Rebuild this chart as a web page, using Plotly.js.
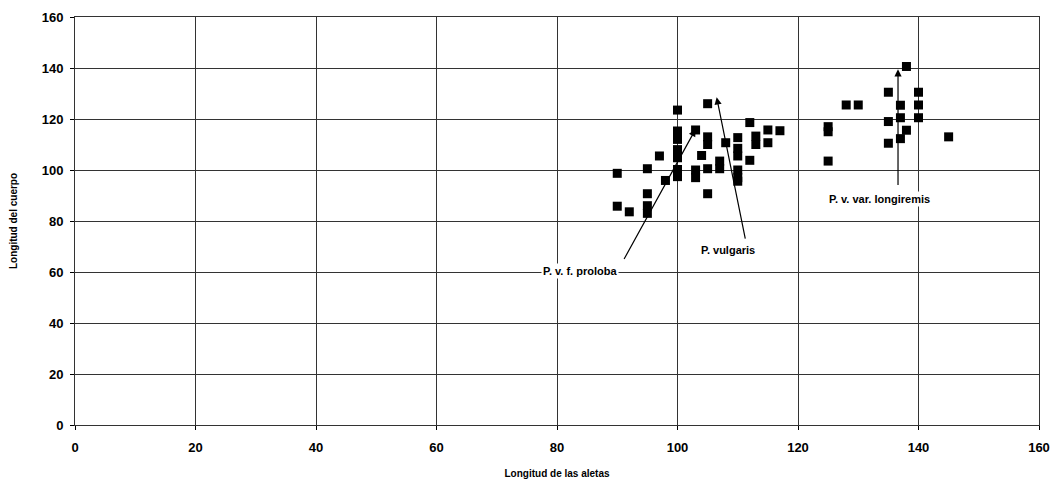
<!DOCTYPE html>
<html><head><meta charset="utf-8">
<script src="https://cdn.plot.ly/plotly-3.0.1.min.js"></script>
<style>html,body{margin:0;padding:0;background:#fff}#chart{width:1056px;height:480px}</style>
</head><body><div id="chart"></div>
<script>
var finLength = [100,105,112,115,117,100,100,100,100,100,100,103,105,105,108,110,110,110,113,113,115,97,104,107,107,112,90,95,103,103,105,110,110,110,98,95,105,90,92,95,95,125,125,125,128,130,135,135,135,138,137,137,138,137,140,140,140,145];
var bodyLength = [123.5,126,118.6,115.7,115.4,115.3,112,108,104.8,100.2,97.4,115.7,113,110,110.7,112.7,108.5,105.5,113.3,110,110.7,105.5,105.7,103.5,100.5,103.8,98.7,100.5,100,97,100.5,100,97,95.6,95.9,90.7,90.7,85.8,83.6,86,83,117,115,103.5,125.5,125.5,130.5,119,110.5,140.6,125.4,120.5,115.6,112.3,130.5,125.5,120.5,113];

var labelText = ["P. v. f. proloba","P. vulgaris","P. v. var. longiremis"];
var labelX = [83.8,108.3,133.5];
var labelY = [60.5,68.5,88.8];
var arrowTipX = [103,106.5,136.6];
var arrowTipY = [116,128.5,139.5];
var arrowStartX = [91,111.3,136.6];
var arrowStartY = [64.5,72.5,93.5];

var tickVals = [0,20,40,60,80,100,120,140,160];

var FONT = 'Liberation Sans, Arial, sans-serif';
var annotations = [];
for (var i=0;i<labelText.length;i++){
  annotations.push({x:labelX[i],y:labelY[i],xref:'x',yref:'y',text:'<b>'+labelText[i]+'</b>',showarrow:false,
    font:{family:FONT,size:11,color:'#000'},bgcolor:'#fff'});
  annotations.push({x:arrowTipX[i],y:arrowTipY[i],xref:'x',yref:'y',axref:'x',ayref:'y',
    ax:arrowStartX[i],ay:arrowStartY[i],text:'',showarrow:true,arrowhead:2,arrowsize:1.2,arrowwidth:1.2,arrowcolor:'#000',standoff:0});
}

var trace = {x:finLength,y:bodyLength,mode:'markers',type:'scatter',
  marker:{symbol:'square',size:9,color:'#000'},hoverinfo:'x+y'};

var layout = {
  width:1056,height:480,margin:{l:75,r:17,t:17,b:55},
  paper_bgcolor:'#fff',plot_bgcolor:'#fff',showlegend:false,
  xaxis:{range:[0,160],tickvals:tickVals,showgrid:true,gridcolor:'#333',gridwidth:1,
    zeroline:false,showline:true,linecolor:'#333',mirror:true,ticks:'outside',ticklen:4,tickcolor:'#000',
    ticklabelstandoff:6,automargin:false,
    tickfont:{family:FONT,size:13,color:'#000',weight:'bold'},
    title:{text:'<b>Longitud de las aletas</b>',font:{family:FONT,size:10,color:'#000'},standoff:16}},
  yaxis:{range:[0,160],tickvals:tickVals,showgrid:true,gridcolor:'#333',gridwidth:1,
    zeroline:false,showline:true,linecolor:'#333',mirror:true,ticks:'outside',ticklen:4,tickcolor:'#000',
    ticklabelstandoff:4,automargin:false,
    tickfont:{family:FONT,size:13,color:'#000',weight:'bold'},
    title:{text:'<b>Longitud del cuerpo</b>',font:{family:FONT,size:10,color:'#000'},standoff:22}},
  annotations:annotations
};
Plotly.newPlot('chart',[trace],layout,{displayModeBar:false,staticPlot:true});
</script>
</body></html>
